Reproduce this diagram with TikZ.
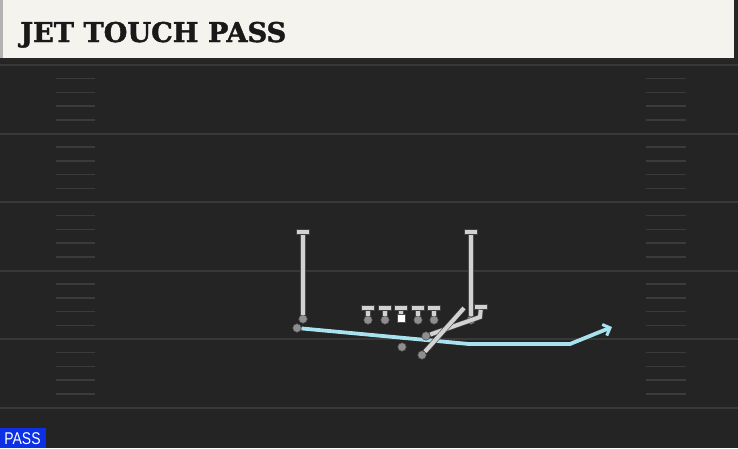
\documentclass[tikz,border=0pt]{standalone}
\usepackage{fontspec}
\newfontfamily\titlefont{DejaVu Serif}[BoldFeatures={FakeBold=1.6}]
\newfontfamily\tagfont{Liberation Sans}
\usetikzlibrary{arrows.meta,positioning}

\definecolor{fieldbg}{HTML}{242424}
\definecolor{yardline}{HTML}{383838}
\definecolor{hashline}{HTML}{3B3B3B}
\definecolor{headbg}{HTML}{F5F3EE}
\definecolor{routegray}{HTML}{D2D2D2}
\definecolor{dotgray}{HTML}{8E8E8E}
\definecolor{jetblue}{HTML}{A8E2EE}
\definecolor{passblue}{HTML}{0B30E6}

\begin{document}
\begin{tikzpicture}[x=1pt,y=-1pt,
    player/.style={circle,fill=dotgray,draw=black!70,line width=.5pt,minimum size=8.5pt,inner sep=0pt},
    snapper/.style={rectangle,fill=white,draw=black!70,line width=.5pt,minimum size=8pt,inner sep=0pt},
    tbar/.style={rectangle,fill=routegray,draw=black!75,line width=.6pt,minimum width=13pt,minimum height=5pt,inner sep=0pt},
    route/.style={draw=black!70,line width=.6pt,double=routegray,double distance=4pt},
    jet/.style={draw=jetblue,line width=3.8pt,line join=round,-{Straight Barb[length=6pt,width=12pt,line width=3pt]}},
    yard/.style={draw=yardline,line width=2pt},
    hash/.style={draw=hashline,line width=1.5pt}]
  \useasboundingbox (0,0) rectangle (738,448);

  % field and header
  \fill[fieldbg] (0,58) rectangle (738,448);
  \fill[black!85] (0,58) rectangle (738,62);
  \fill[black!85] (734,0) rectangle (738,62);
  \fill[headbg] (0,0) rectangle (734,58);
  \fill[black!30] (0,0) rectangle (3,58);
  \node[anchor=base west,inner sep=0pt,font=\titlefont\bfseries\fontsize{27.2}{28}\selectfont,text=black!90] (title) at (20,42) {JET TOUCH PASS};

  \foreach \i in {0,...,5}
    \draw[yard] (0,{65+68.5*\i}) -- (738,{65+68.5*\i});
  \foreach \i in {0,...,4}
    \foreach \k in {1,...,4} {
      \draw[hash] (56,{65+68.5*\i+13.7*\k}) -- (95,{65+68.5*\i+13.7*\k});
      \draw[hash] (646,{65+68.5*\i+13.7*\k}) -- (686,{65+68.5*\i+13.7*\k});
    }

  % jet motion player and touch pass route
  \node[player] (jet) at (297,328) {};
  \coordinate (jet1) at (469,344);
  \coordinate (jet2) at (570,344);
  \coordinate (jetEnd) at (612,327);
  \draw[jet] (jet) -- (jet1) -- (jet2) -- (jetEnd);

  % line
  \foreach \x [count=\i] in {368,385,418,434} {
    \node[player] (ol\i) at (\x,320) {};
    \node[tbar] (ol\i T) at (\x,308) {};
    \draw[route] (ol\i) -- (ol\i T);
  }
  \node[snapper] (ctr) at (401,318) {};
  \node[tbar] (ctrT) at (401,308) {};
  \draw[route] (ctr) -- (ctrT);

  % receivers and backs
  \node[player] (lwr) at (303,319) {};
  \node[tbar] (lwrT) at (303,232) {};
  \draw[route] (lwr) -- (lwrT);

  \node[player] (rwr) at (471,320) {};
  \node[tbar] (rwrT) at (471,232) {};
  \draw[route] (rwr) -- (rwrT);

  \node[player] (te) at (426,336) {};
  \coordinate (teBend) at (480,317);
  \node[tbar] (teT) at (481,307) {};
  \draw[route] (te) -- (teBend) -- (teT);

  \node[player] (rb) at (422,355) {};
  \coordinate (rbEnd) at (464,308);
  \draw[route] (rb) -- (rbEnd);

  \node[player] (qb) at (402,347) {};

  % play type tag
  \fill[passblue] (0,428) rectangle (46,448);
  \node[text=white,font=\tagfont\fontsize{17}{17}\selectfont] (tag) at (22.5,439) {\scalebox{0.82}[1]{PASS}};
\end{tikzpicture}
\end{document}
